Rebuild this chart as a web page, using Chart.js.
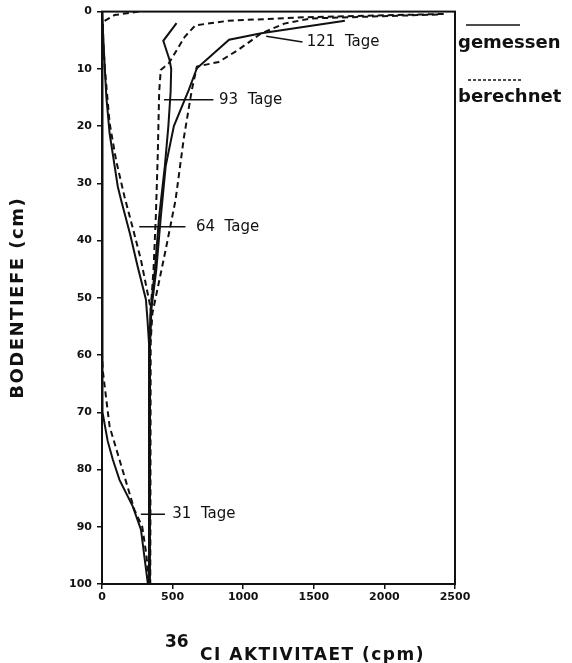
<!DOCTYPE html>
<html>
<head>
<meta charset="utf-8">
<script src="https://cdn.jsdelivr.net/npm/chart.js@4.4.1/dist/chart.umd.min.js"></script>
<style>
	html, body { margin: 0; padding: 0; background: #fff; }
	#wrap { width: 572px; height: 663px; }
</style>
</head>
<body>
<div id="wrap"><canvas id="depth-chart" width="572" height="663"></canvas></div>
<script>
	// Profile values, [activity cpm, depth cm]
	var gem121 = [[1720,1.6],[1128,3.8],[900,4.9],[672,9.9],[614,13.7],[509,20],[451,27],[416,36],[385,45],[350,52],[340,58],[337,100]];
	var ber121 = [[2380,0.5],[1478,1.2],[1291,2.1],[1128,3.8],[964,6.7],[826,8.8],[672,9.6],[636,13.7],[580,22],[521,32.9],[451,41.6],[392,48.6],[357,52.7],[344,58],[342,100]];
	var gem93 = [[528,2],[434,5.1],[479,8.5],[490,10],[486,14],[470,20],[445,27],[404,36],[375,45],[345,52],[336,58],[333,100]];
	var ber93 = [[2420,0.4],[1430,1.0],[894,1.6],[661,2.4],[586,4.4],[474,9],[416,10.2],[405,14],[395,25],[381,36],[365,45],[345,52],[340,58],[339,100]];
	var gem64 = [[0,0],[10,5],[20,10],[31,15],[54,21.3],[112,30.6],[136,33],[200,39],[252,44.5],[311,50.3],[322,53.8],[333,58],[334,100]];
	var ber64 = [[260,0],[89,0.6],[7,1.8],[8,5],[19,9.6],[54,19.5],[100,26],[159,32.3],[220,38],[276,43.4],[346,52],[342,58],[340,100]];
	var gem31 = [[0,0],[0,65],[7,70],[40,75],[77,78.3],[124,81.8],[217,86.4],[276,90.5],[299,95],[325,100]];
	var ber31 = [[0,0],[0,60],[7,63],[54,72.5],[159,81.2],[229,87],[285,90],[315,95],[332,100]];

	// Leader lines and their labels
	var leaders = [
		[[1163,4.3],[1420,5.3]],
		[[439,15.4],[789,15.4]],
		[[264,37.6],[591,37.6]],
		[[275,87.8],[446,87.8]]
	];
	var leaderLabels = ['121  Tage', '93  Tage', '64  Tage', '31  Tage'];
	var labelPos = [[1450,5.3],[829,15.4],[665,37.6],[498,87.8]];

	var xTicks = [0, 500, 1000, 1500, 2000, 2500];
	var yTicks = [0, 10, 20, 30, 40, 50, 60, 70, 80, 90, 100];

	var ink = '#111';

	function pts(list) {
		return list.map(function(p) { return {x: p[0], y: p[1]}; });
	}

	function solid(list) {
		return {data: pts(list), borderColor: ink, borderWidth: 2, showLine: true, pointRadius: 0, tension: 0};
	}

	function dashed(list) {
		return {data: pts(list), borderColor: ink, borderWidth: 2, borderDash: [6, 4], showLine: true, pointRadius: 0, tension: 0};
	}

	var datasets = [
		solid(gem121), dashed(ber121),
		solid(gem93), dashed(ber93),
		solid(gem64), dashed(ber64),
		solid(gem31), dashed(ber31)
	];
	leaders.forEach(function(l) {
		datasets.push({data: pts(l), borderColor: ink, borderWidth: 1.5, showLine: true, pointRadius: 0});
	});

	/***************************************
	      Frame, labels, legend, titles
	***************************************/

	var decorations = {
		id: 'decorations',
		beforeDatasetsDraw: function(chart) {
			var a = chart.chartArea, ctx = chart.ctx;
			ctx.save();
			ctx.strokeStyle = ink;
			ctx.lineWidth = 2;
			ctx.strokeRect(a.left, a.top, a.right - a.left, a.bottom - a.top);
			ctx.restore();
		},
		afterDraw: function(chart) {
			var ctx = chart.ctx, xs = chart.scales.x, ys = chart.scales.y, a = chart.chartArea;
			ctx.save();
			ctx.fillStyle = ink;
			ctx.textBaseline = 'middle';
			ctx.textAlign = 'left';

			// Curve labels
			ctx.font = '15px "DejaVu Sans"';
			leaderLabels.forEach(function(t, i) {
				ctx.fillText(t, xs.getPixelForValue(labelPos[i][0]), ys.getPixelForValue(labelPos[i][1]));
			});

			// Legend
			ctx.font = 'bold 18px "DejaVu Sans"';
			ctx.fillText('gemessen', a.right + 3, 43);
			ctx.fillText('berechnet', a.right + 3, 97);
			ctx.strokeStyle = ink;
			ctx.lineWidth = 1.5;
			ctx.beginPath();
			ctx.moveTo(a.right + 11, 25);
			ctx.lineTo(a.right + 65, 25);
			ctx.stroke();
			ctx.setLineDash([3, 2]);
			ctx.beginPath();
			ctx.moveTo(a.right + 13, 80);
			ctx.lineTo(a.right + 68, 80);
			ctx.stroke();
			ctx.setLineDash([]);

			// X title with superscript isotope number
			ctx.textBaseline = 'alphabetic';
			ctx.font = 'bold 17px "DejaVu Sans"';
			ctx.fillText('36', 165, 647);
			ctx.letterSpacing = '1.5px';
			ctx.fillText('CI AKTIVITAET (cpm)', 200, 660);

			// Y title
			ctx.translate(23, (a.top + a.bottom) / 2);
			ctx.rotate(-Math.PI / 2);
			ctx.textAlign = 'center';
			ctx.letterSpacing = '1.5px';
			ctx.font = 'bold 18px "DejaVu Sans"';
			ctx.fillText('BODENTIEFE (cm)', 0, 0);
			ctx.restore();
		}
	};

	new Chart(document.getElementById('depth-chart').getContext('2d'), {
		type: 'scatter',
		data: {datasets: datasets},
		plugins: [decorations],
		options: {
			responsive: false,
			animation: false,
			layout: {padding: {left: 0, top: 11, right: 117, bottom: 0}},
			plugins: {legend: {display: false}, tooltip: {enabled: false}},
			scales: {
				x: {
					type: 'linear', min: 0, max: 2500,
					afterFit: function(s) { s.height = 79; },
					afterBuildTicks: function(s) { s.ticks = xTicks.map(function(v) { return {value: v}; }); },
					grid: {drawOnChartArea: false, drawTicks: true, tickLength: 5, color: ink, lineWidth: 1.5},
					border: {display: true, color: ink, width: 2},
					ticks: {
						color: ink, padding: 2, maxRotation: 0,
						font: {family: 'DejaVu Sans', size: 11, weight: 'bold'},
						callback: function(v) { return String(v); }
					}
				},
				y: {
					type: 'linear', min: 0, max: 100, reverse: true,
					afterFit: function(s) { s.width = 102; },
					afterBuildTicks: function(s) { s.ticks = yTicks.map(function(v) { return {value: v}; }); },
					grid: {drawOnChartArea: false, drawTicks: true, tickLength: 5, color: ink, lineWidth: 1.5},
					border: {display: true, color: ink, width: 2},
					ticks: {
						color: ink, padding: 5,
						font: {family: 'DejaVu Sans', size: 11, weight: 'bold'},
						callback: function(v) { return String(v); }
					}
				}
			}
		}
	});
</script>
</body>
</html>
